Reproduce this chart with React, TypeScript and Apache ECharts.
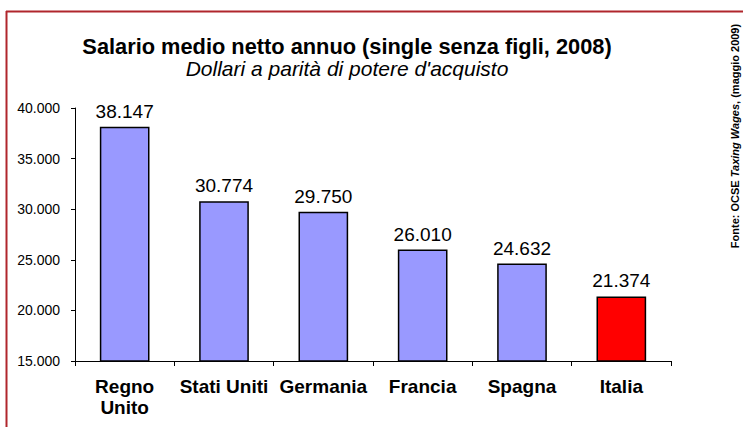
import React, { useEffect, useRef } from "react";
import * as echarts from "echarts";

const categories = ["Regno\nUnito", "Stati Uniti", "Germania", "Francia", "Spagna", "Italia"];
const values = [38147, 30774, 29750, 26010, 24632, 21374];
const barColors = ["#9999FF", "#9999FF", "#9999FF", "#9999FF", "#9999FF", "#FF0000"];
const titleText = "Salario medio netto annuo (single senza figli, 2008)";
const subtitleText = "Dollari a parità di potere d'acquisto";

const fmt = (v: number) => String(Math.round(v)).replace(/\B(?=(\d{3})+(?!\d))/g, ".");
const FF = "Liberation Sans, Arial, sans-serif";

export default function App() {
  const ref = useRef<HTMLDivElement>(null);
  useEffect(() => {
    document.body.style.margin = "0";
    const chart = echarts.init(ref.current!, null, { renderer: "svg" });
    chart.setOption({
      animation: false,
      backgroundColor: "#ffffff",
      textStyle: { fontFamily: FF },
      grid: { left: 75, right: 72, top: 108, bottom: 66 },
      title: {
        text: titleText,
        subtext: subtitleText,
        left: 342,
        top: 30,
        textAlign: "center",
        itemGap: 1,
        textStyle: { fontSize: 21.8, fontWeight: "bold", color: "#000", fontFamily: FF },
        subtextStyle: { fontSize: 21, fontStyle: "italic", color: "#000", fontFamily: FF },
      },
      xAxis: {
        type: "category",
        data: categories,
        axisLine: { lineStyle: { color: "#000", width: 1 } },
        axisTick: { show: true, length: 5, lineStyle: { color: "#000" } },
        axisLabel: {
          color: "#000",
          fontSize: 19,
          fontWeight: "bold",
          lineHeight: 21,
          margin: 15,
          interval: 0,
        },
      },
      yAxis: {
        type: "value",
        min: 15000,
        max: 40000,
        interval: 5000,
        axisLine: { show: true, lineStyle: { color: "#000", width: 1 } },
        axisTick: { show: true, length: 4, lineStyle: { color: "#000" } },
        splitLine: { show: false },
        axisLabel: { color: "#000", fontSize: 14, margin: 15, formatter: (v: number) => fmt(v) },
      },
      series: [
        {
          type: "bar",
          barWidth: "50%",
          data: values.map((v, i) => ({
            value: v,
            itemStyle: { color: barColors[i], borderColor: "#000", borderWidth: 1.5 },
          })),
          label: {
            show: true,
            position: "top",
            distance: 6,
            color: "#000",
            fontSize: 19,
            formatter: (p: any) => fmt(p.value),
          },
        },
      ],
      graphic: [
        {
          type: "line",
          shape: { x1: 6, y1: 11.5, x2: 743, y2: 11.5 },
          style: { stroke: "#B0262C", lineWidth: 2 },
        },
        {
          type: "line",
          shape: { x1: 6.5, y1: 11, x2: 6.5, y2: 427 },
          style: { stroke: "#B0262C", lineWidth: 2 },
        },
        {
          type: "text",
          x: 735,
          y: 136,
          rotation: Math.PI / 2,
          style: {
            text: "{b|Fonte: OCSE }{bi|Taxing Wages}{b|, (maggio 2009)}",
            align: "center",
            verticalAlign: "middle",
            rich: {
              b: { fontSize: 11, fontWeight: "bold", fill: "#000", fontFamily: FF },
              bi: { fontSize: 11, fontWeight: "bold", fontStyle: "italic", fill: "#000", fontFamily: FF },
            },
          },
        },
      ],
    });
    return () => chart.dispose();
  }, []);
  return <div ref={ref} style={{ width: 743, height: 427 }} />;
}
